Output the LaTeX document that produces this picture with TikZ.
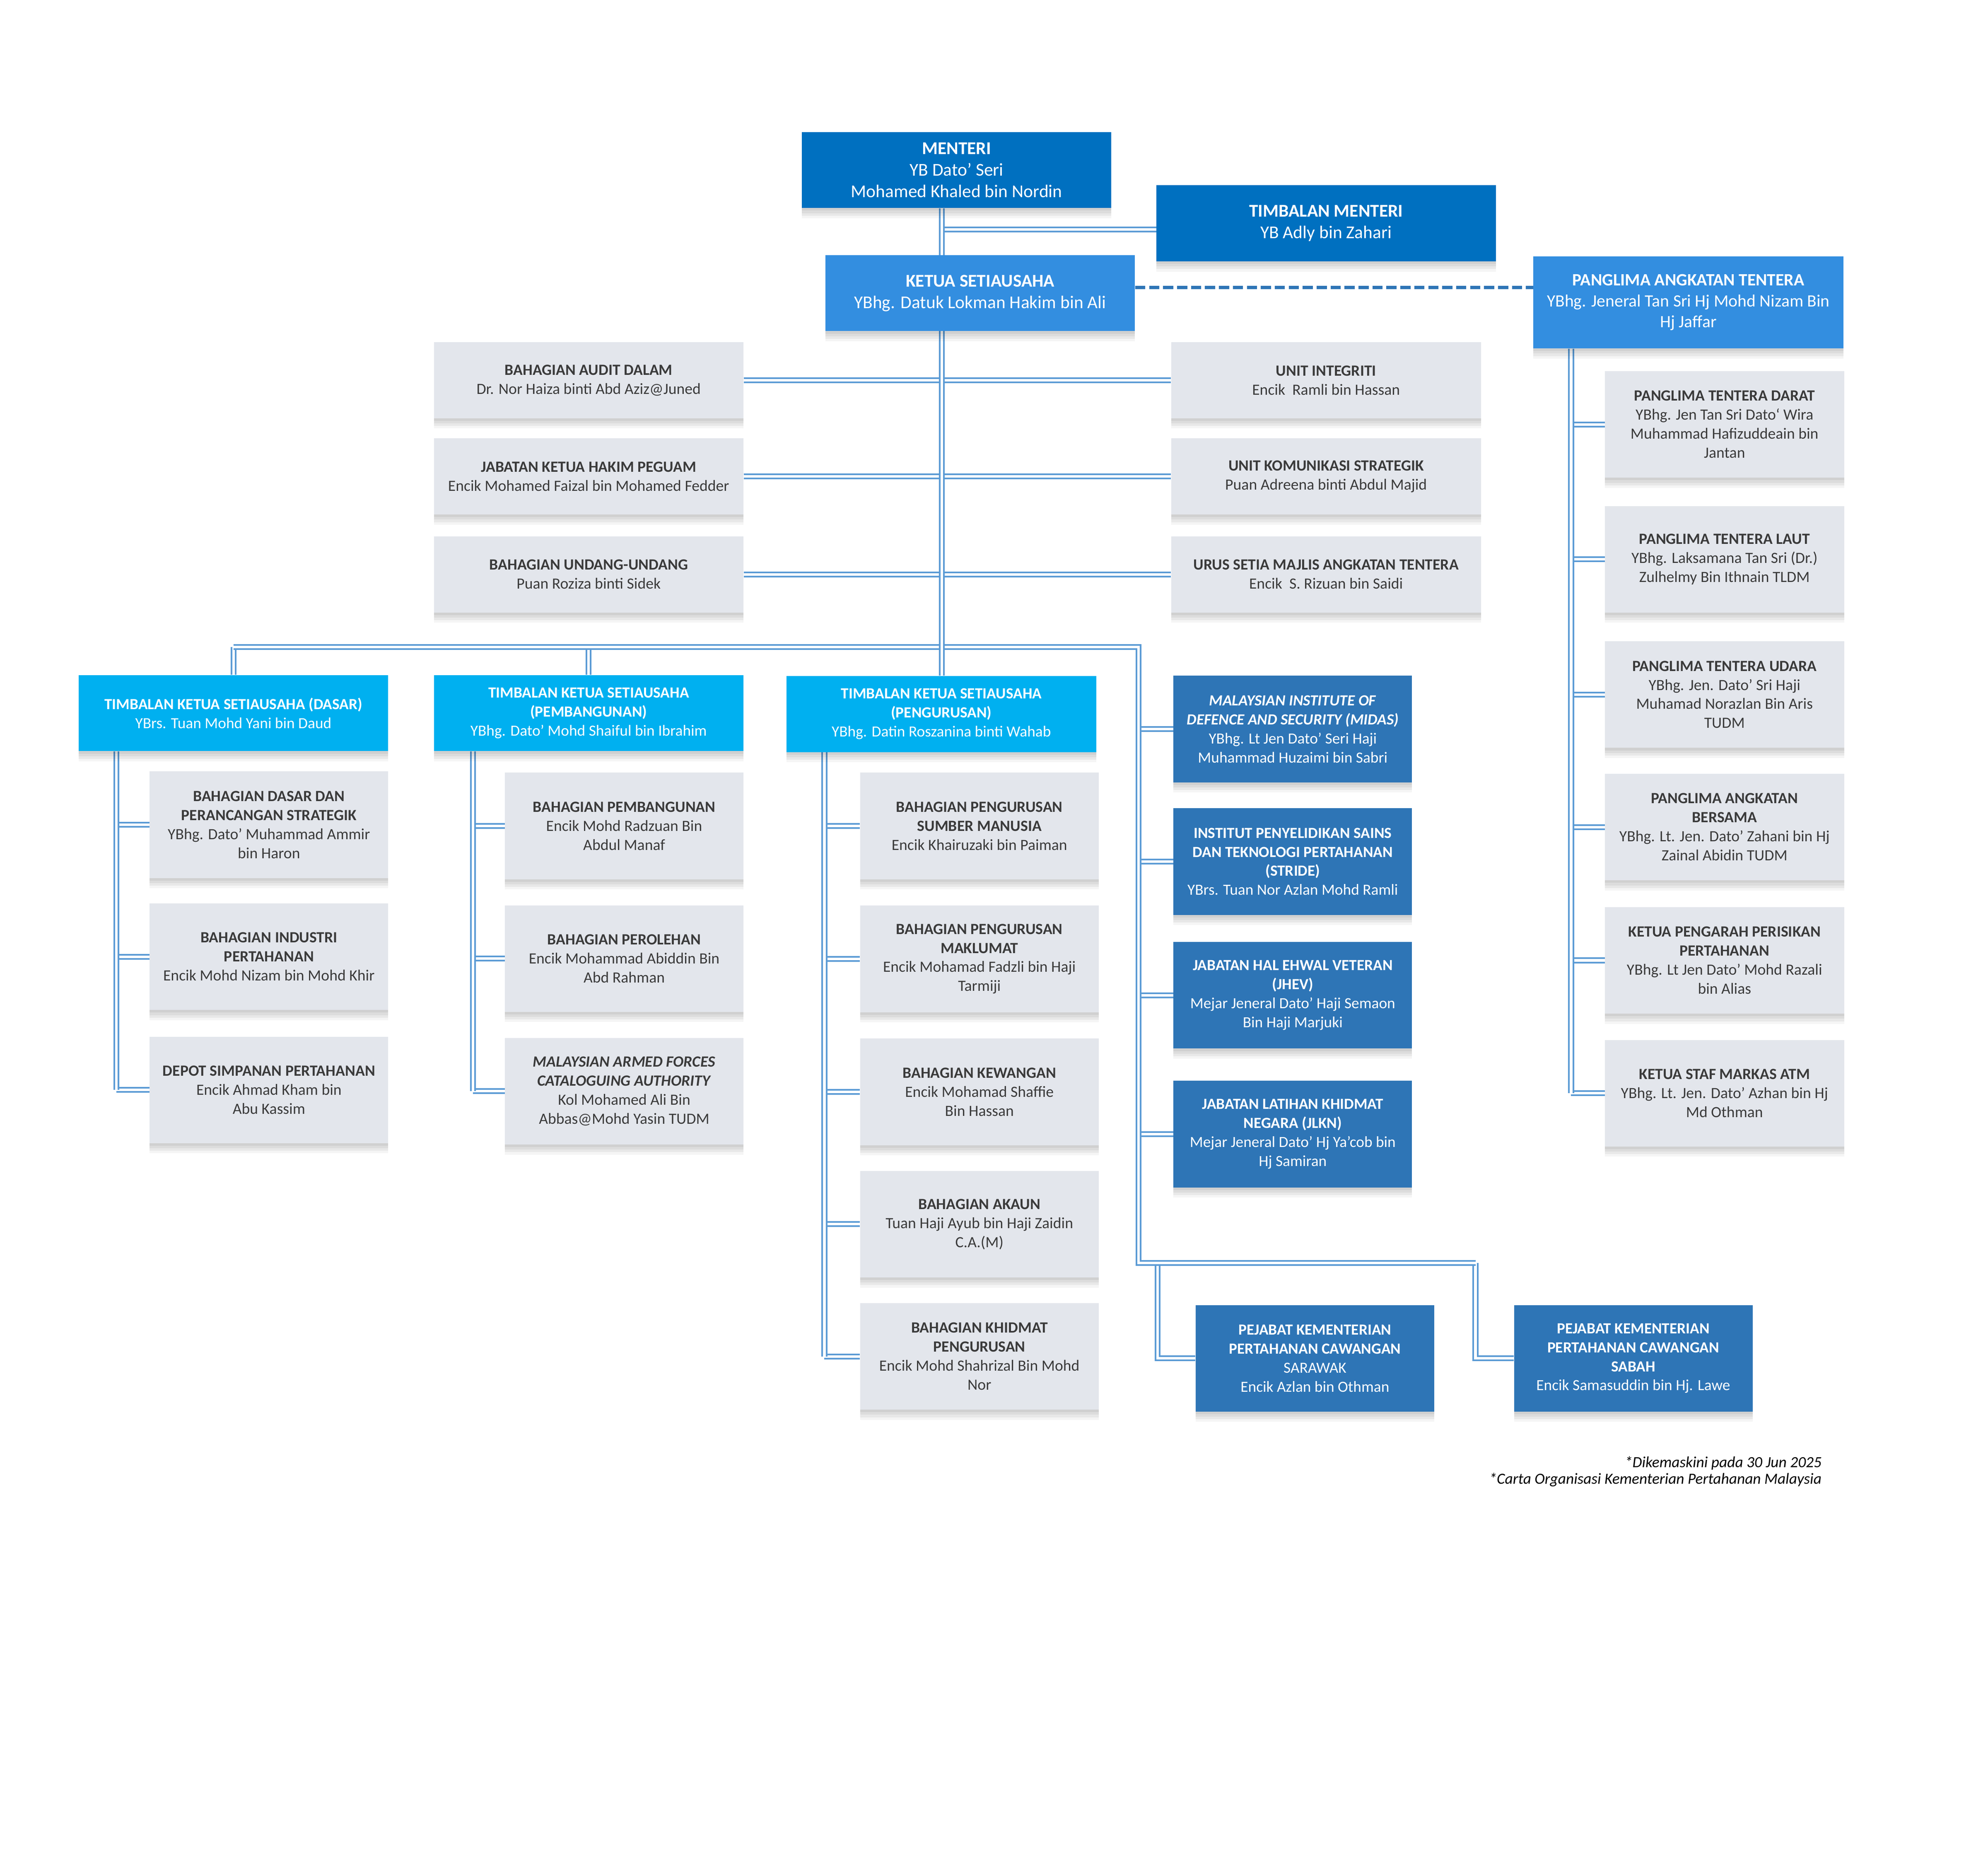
\documentclass[tikz,border=0pt]{standalone}
\usepackage{fontspec}
\setmainfont{Carlito}
\usetikzlibrary{shadows,backgrounds}
\definecolor{menblue}{HTML}{0070C0}
\definecolor{ksublue}{HTML}{338EE0}
\definecolor{tksublue}{HTML}{00B0F0}
\definecolor{agblue}{HTML}{2E75B6}
\definecolor{graybox}{HTML}{E3E6EC}
\definecolor{linec}{HTML}{5B9BD5}
\definecolor{txtgray}{HTML}{3A3A3A}
\tikzset{
  shd/.style={
    general shadow={fill=black,opacity=.05,shadow yshift=-2pt},
    general shadow={fill=black,opacity=.05,shadow yshift=-4pt},
    general shadow={fill=black,opacity=.05,shadow yshift=-6pt},
    general shadow={fill=black,opacity=.04,shadow yshift=-8pt}},
  basebox/.style={rectangle,inner sep=0pt,align=center,shd},
  gbox/.style={basebox,fill=graybox,text=txtgray,font=\fontsize{12.3}{15}\selectfont,minimum width=188pt,minimum height=84pt},
  sbox/.style={gbox,minimum width=244pt,minimum height=60pt},
  tbox/.style={basebox,fill=tksublue,text=white,font=\fontsize{12.2}{15}\selectfont,minimum width=244pt,minimum height=60pt},
  abox/.style={basebox,fill=agblue,text=white,font=\fontsize{12.2}{15}\selectfont,minimum width=188pt,minimum height=84pt},
  topbox/.style={basebox,fill=menblue,text=white,font=\fontsize{14.2}{17}\selectfont,minimum height=60pt},
  kbox/.style={basebox,fill=ksublue,text=white,font=\fontsize{14.2}{17}\selectfont},
  conn/.style={draw=linec,line width=1.3pt,double=white,double distance=2pt},
  dashc/.style={draw=agblue,line width=2.6pt,dash pattern=on 8pt off 3pt},
  note/.style={anchor=base east,inner sep=0pt,font=\fontsize{12.2}{13}\selectfont\itshape}
}
\begin{document}
\begin{tikzpicture}[x=1pt,y=-1pt]
\useasboundingbox (0,0) rectangle (1567,1469);

% top level
\node[topbox,minimum width=244pt] (menteri) at (754,134) {\textbf{MENTERI}\\YB Dato’ Seri\\Mohamed Khaled bin Nordin};
\node[topbox,minimum width=267.5pt] (tm) at (1045.25,176) {\textbf{TIMBALAN MENTERI}\\YB Adly bin Zahari};
\node[kbox,minimum width=244pt,minimum height=60pt] (ksu) at (772.6,231) {\textbf{KETUA SETIAUSAHA}\\YBhg. Datuk Lokman Hakim bin Ali};
\node[kbox,minimum width=244.4pt,minimum height=72.6pt,font=\fontsize{13.6}{16.5}\selectfont] (pat) at (1330.8,238.3) {\textbf{PANGLIMA ANGKATAN TENTERA}\\YBhg. Jeneral Tan Sri Hj Mohd Nizam Bin\\Hj Jaffar};

% staff units
\node[sbox] (audit) at (464,299.7) {\textbf{BAHAGIAN AUDIT DALAM}\\Dr. Nor Haiza binti Abd Aziz@Juned};
\node[sbox] (jkhp) at (464,375.5) {\textbf{JABATAN KETUA HAKIM PEGUAM}\\Encik Mohamed Faizal bin Mohamed Fedder};
\node[sbox] (buu) at (464,452.7) {\textbf{BAHAGIAN UNDANG-UNDANG}\\Puan Roziza binti Sidek};
\node[sbox] (integ) at (1045.25,299.7) {\textbf{UNIT INTEGRITI}\\Encik\ \ Ramli bin Hassan};
\node[sbox] (uks) at (1045.25,375.5) {\textbf{UNIT KOMUNIKASI STRATEGIK}\\Puan Adreena binti Abdul Majid};
\node[sbox] (usmat) at (1045.25,452.7) {\textbf{URUS SETIA MAJLIS ANGKATAN TENTERA}\\Encik\ \ S. Rizuan bin Saidi};

% deputy secretaries general
\node[tbox] (dasar) at (184,562) {\textbf{TIMBALAN KETUA SETIAUSAHA (DASAR)}\\YBrs. Tuan Mohd Yani bin Daud};
\node[tbox] (pemb) at (464,562) {\textbf{TIMBALAN KETUA SETIAUSAHA}\\\textbf{(PEMBANGUNAN)}\\YBhg. Dato' Mohd Shaiful bin Ibrahim};
\node[tbox] (peng) at (742,562.7) {\textbf{TIMBALAN KETUA SETIAUSAHA}\\\textbf{(PENGURUSAN)}\\YBhg. Datin Roszanina binti Wahab};

% dasar divisions
\node[gbox] (bdps) at (212,650) {\textbf{BAHAGIAN DASAR DAN}\\\textbf{PERANCANGAN STRATEGIK}\\YBhg. Dato' Muhammad Ammir\\bin Haron};
\node[gbox] (bip) at (212,754) {\textbf{BAHAGIAN INDUSTRI}\\\textbf{PERTAHANAN}\\Encik Mohd Nizam bin Mohd Khir};
\node[gbox] (dsp) at (212,859) {\textbf{DEPOT SIMPANAN PERTAHANAN}\\Encik Ahmad Kham bin\\Abu Kassim};

% pembangunan divisions
\node[gbox] (bpb) at (492,651) {\textbf{BAHAGIAN PEMBANGUNAN}\\Encik Mohd Radzuan Bin\\Abdul Manaf};
\node[gbox] (bpl) at (492,755.5) {\textbf{BAHAGIAN PEROLEHAN}\\Encik Mohammad Abiddin Bin\\Abd Rahman};
\node[gbox] (mafca) at (492,860) {\textbf{\textit{MALAYSIAN ARMED FORCES}}\\\textbf{\textit{CATALOGUING AUTHORITY}}\\Kol Mohamed Ali Bin\\Abbas@Mohd Yasin TUDM};

% pengurusan divisions
\node[gbox] (bpsm) at (772,651) {\textbf{BAHAGIAN PENGURUSAN}\\\textbf{SUMBER MANUSIA}\\Encik Khairuzaki bin Paiman};
\node[gbox] (bpm) at (772,755.7) {\textbf{BAHAGIAN PENGURUSAN}\\\textbf{MAKLUMAT}\\Encik Mohamad Fadzli bin Haji\\Tarmiji};
\node[gbox] (bk) at (772,860.5) {\textbf{BAHAGIAN KEWANGAN}\\Encik Mohamad Shaffie\\Bin Hassan};
\node[gbox] (ba) at (772,964.8) {\textbf{BAHAGIAN AKAUN}\\Tuan Haji Ayub bin Haji Zaidin\\C.A.(M)};
\node[gbox] (bkp) at (772,1069) {\textbf{BAHAGIAN KHIDMAT}\\\textbf{PENGURUSAN}\\Encik Mohd Shahrizal Bin Mohd\\Nor};

% agencies
\node[abox] (midas) at (1019,574.6) {\textbf{\textit{MALAYSIAN INSTITUTE OF}}\\\textbf{\textit{DEFENCE AND SECURITY (MIDAS)}}\\YBhg. Lt Jen Dato’ Seri Haji\\Muhammad Huzaimi bin Sabri};
\node[abox] (stride) at (1019,679) {\textbf{INSTITUT PENYELIDIKAN SAINS}\\\textbf{DAN TEKNOLOGI PERTAHANAN}\\\textbf{(STRIDE)}\\YBrs. Tuan Nor Azlan Mohd Ramli};
\node[abox] (jhev) at (1019,784.4) {\textbf{JABATAN HAL EHWAL VETERAN}\\\textbf{(JHEV)}\\Mejar Jeneral Dato' Haji Semaon\\Bin Haji Marjuki};
\node[abox] (jlkn) at (1019,893.8) {\textbf{JABATAN LATIHAN KHIDMAT}\\\textbf{NEGARA (JLKN)}\\Mejar Jeneral Dato’ Hj Ya’cob bin\\Hj Samiran};
\node[abox] (sarawak) at (1036.5,1070.5) {\textbf{PEJABAT KEMENTERIAN}\\\textbf{PERTAHANAN CAWANGAN}\\SARAWAK\\Encik Azlan bin Othman};
\node[abox] (sabah) at (1287.4,1070.5) {\textbf{PEJABAT KEMENTERIAN}\\\textbf{PERTAHANAN CAWANGAN}\\\textbf{SABAH}\\Encik Samasuddin bin Hj. Lawe};

% armed forces
\node[gbox,minimum width=188.5pt] (ptd) at (1359.3,334.5) {\textbf{PANGLIMA TENTERA DARAT}\\YBhg. Jen Tan Sri Dato‘ Wira\\Muhammad Hafizuddeain bin\\Jantan};
\node[gbox,minimum width=188.5pt] (ptl) at (1359.3,440.8) {\textbf{PANGLIMA TENTERA LAUT}\\YBhg. Laksamana Tan Sri (Dr.)\\Zulhelmy Bin Ithnain TLDM};
\node[gbox,minimum width=188.5pt] (ptu) at (1359.3,547.4) {\textbf{PANGLIMA TENTERA UDARA}\\YBhg. Jen. Dato' Sri Haji\\Muhamad Norazlan Bin Aris\\TUDM};
\node[gbox,minimum width=188.5pt] (pab) at (1359.3,651.8) {\textbf{PANGLIMA ANGKATAN}\\\textbf{BERSAMA}\\YBhg. Lt. Jen. Dato’ Zahani bin Hj\\Zainal Abidin TUDM};
\node[gbox,minimum width=188.5pt] (kppp) at (1359.3,756.9) {\textbf{KETUA PENGARAH PERISIKAN}\\\textbf{PERTAHANAN}\\YBhg. Lt Jen Dato' Mohd Razali\\bin Alias};
\node[gbox,minimum width=188.5pt] (ksma) at (1359.3,861.6) {\textbf{KETUA STAF MARKAS ATM}\\YBhg. Lt. Jen. Dato' Azhan bin Hj\\Md Othman};

% footnote
\node[note] (note1) at (1436,1156.5) {*Dikemaskini pada 30 Jun 2025};
\node[note] (note2) at (1436,1169.5) {*Carta Organisasi Kementerian Pertahanan Malaysia};

% junction coordinates
\coordinate (mainx) at (742.5,0);
\coordinate (tmj) at (742.5,181);
\coordinate (dashy) at (0,226.6);
\coordinate (busL) at (184,510);
\coordinate (busR) at (897.5,510);
\coordinate (agB) at (897.5,995.4);
\coordinate (sarJ) at (912.5,995.4);
\coordinate (sabJ) at (1163,995.4);
\coordinate (dT) at ([xshift=30pt]dasar.south west);
\coordinate (pT) at ([xshift=31pt]pemb.south west);
\coordinate (gT) at ([xshift=30pt]peng.south west);
\coordinate (aT) at ([xshift=30pt]pat.south west);

\begin{scope}[on background layer]
  \fill[white] (0,0) rectangle (1567,1469);
  % staff connectors and deputy minister
  \draw[conn] (audit.east) -- (integ.west);
  \draw[conn] (jkhp.east) -- (uks.west);
  \draw[conn] (buu.east) -- (usmat.west);
  \draw[conn] (tmj) -- (tmj -| tm.west);
  % bus and drops
  \draw[conn] (dasar.north) -- (busL);
  \draw[conn] (pemb.north) -- (pemb.north |- busL);
  \foreach \n in {midas,stride,jhev,jlkn} \draw[conn] (\n.west) -- (\n.west -| busR);
  \draw[conn] (sarJ) |- (sarawak.west);
  \draw[conn] (sabJ) |- (sabah.west);
  \draw[conn] (busL) -- (busR) -- (agB) -- (sabJ);
  % main trunk
  \draw[conn] (menteri.south -| mainx) -- (peng.north -| mainx);
  % children branches
  \foreach \n in {bdps,bip,dsp} \draw[conn] (\n.west) -- (\n.west -| dT);
  \foreach \n in {bpb,bpl,mafca} \draw[conn] (\n.west) -- (\n.west -| pT);
  \foreach \n in {bpsm,bpm,bk,ba,bkp} \draw[conn] (\n.west) -- (\n.west -| gT);
  \foreach \n in {ptd,ptl,ptu,pab,kppp,ksma} \draw[conn] (\n.west) -- (\n.west -| aT);
  % trunks
  \draw[conn] (dT) -- (dT |- dsp.west);
  \draw[conn] (pT) -- (pT |- mafca.west);
  \draw[conn] (gT) -- (gT |- bkp.west);
  \draw[conn] (aT) -- (aT |- ksma.west);
\end{scope}
% dashed link
\draw[dashc] (ksu.east |- dashy) -- (pat.west |- dashy);
\end{tikzpicture}
\end{document}
